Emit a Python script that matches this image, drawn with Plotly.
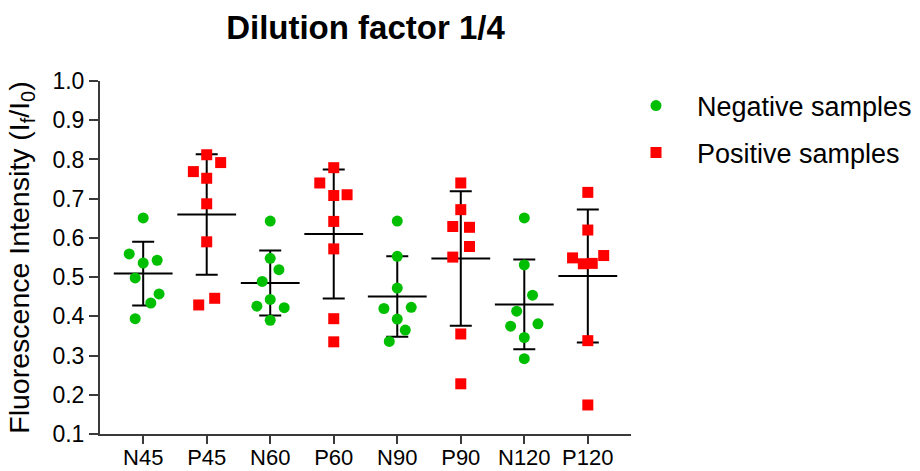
import numpy as np
import plotly.graph_objects as go

# Groups along the x axis
groups = ["N45", "P45", "N60", "P60", "N90", "P90", "N120", "P120"]

# Fluorescence intensity (If/I0) of each sample, per group
N45 = [0.651, 0.559, 0.536, 0.543, 0.498, 0.457, 0.434, 0.394]
P45 = [0.812, 0.792, 0.769, 0.752, 0.687, 0.590, 0.446, 0.429]
N60 = [0.643, 0.548, 0.519, 0.489, 0.443, 0.426, 0.422, 0.390]
P60 = [0.779, 0.740, 0.708, 0.710, 0.642, 0.572, 0.394, 0.335]
N90 = [0.643, 0.553, 0.472, 0.420, 0.423, 0.393, 0.365, 0.336]
P90 = [0.740, 0.672, 0.629, 0.627, 0.578, 0.551, 0.355, 0.228]
N120 = [0.651, 0.531, 0.454, 0.413, 0.375, 0.381, 0.346, 0.292]
P120 = [0.716, 0.620, 0.549, 0.555, 0.534, 0.535, 0.338, 0.174]

values = [N45, P45, N60, P60, N90, P90, N120, P120]

# Horizontal scatter of points inside each column (category units)
spread = [
    [0.0, -0.22, 0.0, 0.22, -0.126, 0.25, 0.12, -0.126],
    [0.0, 0.22, -0.21, 0.0, 0.0, 0.0, 0.126, -0.126],
    [0.0, 0.0, 0.137, -0.126, 0.0, -0.21, 0.22, 0.0],
    [0.0, -0.22, 0.0, 0.21, 0.0, 0.0, 0.0, 0.0],
    [0.0, 0.0, 0.0, -0.21, 0.22, 0.0, 0.126, -0.126],
    [0.0, 0.0, -0.126, 0.137, 0.137, -0.126, 0.0, 0.0],
    [0.0, 0.0, 0.13, -0.12, -0.215, 0.215, 0.0, 0.0],
    [0.0, 0.0, -0.24, 0.25, -0.07, 0.07, 0.0, 0.0],
]

GREEN = "#00BF00"
RED = "#FF0000"
FONT = "Liberation Sans, Arial, sans-serif"

W, H = 920, 471
ML, MR, MT, MB = 100, 289, 81, 37
plot_w = W - ML - MR
plot_h = H - MT - MB

fig = go.Figure()

# Mean ± SD bars (drawn first so the points sit on top)
for i, vals in enumerate(values):
    arr = np.array(vals)
    fig.add_trace(go.Scatter(
        x=[i], y=[arr.mean()],
        mode="markers",
        marker=dict(symbol="line-ew", size=42, line=dict(color="black", width=2)),
        error_y=dict(type="data", array=[arr.std(ddof=1)], color="black",
                     thickness=2, width=11),
        showlegend=False, hoverinfo="skip",
    ))

# Sample points: negatives as green circles, positives as red squares
for kind, name, color, symbol in [("N", "Negative samples", GREEN, "circle"),
                                  ("P", "Positive samples", RED, "square")]:
    xs, ys = [], []
    for i, g in enumerate(groups):
        if g.startswith(kind):
            xs += [i + d for d in spread[i]]
            ys += values[i]
    fig.add_trace(go.Scatter(
        x=xs, y=ys, mode="markers", name=name, legendgroup=name,
        marker=dict(symbol=symbol, size=11, color=color, line=dict(width=0)),
    ))

axis_color = "#3a3a3a"
fig.update_layout(
    width=W, height=H,
    margin=dict(l=ML, r=MR, t=MT, b=MB, autoexpand=False),
    paper_bgcolor="white", plot_bgcolor="white",
    font=dict(family=FONT, color="black"),
    title=dict(text="<b>Dilution factor 1/4</b>", font=dict(size=33, family=FONT),
               x=0.5, xref="paper", xanchor="center",
               y=1 - 27 / H, yref="container", yanchor="middle"),
    xaxis=dict(range=[-0.68, 7.68], tickmode="array",
               tickvals=list(range(len(groups))),
               ticktext=groups, showgrid=False, zeroline=False, automargin=False,
               showline=True, linecolor=axis_color, linewidth=2,
               ticks="outside", ticklen=8, tickwidth=2, tickcolor=axis_color,
               ticklabelstandoff=-5, tickfont=dict(size=22)),
    yaxis=dict(range=[0.1, 1.0], tickmode="array",
               tickvals=[0.1, 0.2, 0.3, 0.4, 0.5, 0.6, 0.7, 0.8, 0.9, 1.0],
               ticktext=["0.1", "0.2", "0.3", "0.4", "0.5", "0.6", "0.7", "0.8", "0.9", "1.0"],
               showgrid=False, zeroline=False, automargin=False,
               showline=True, linecolor=axis_color, linewidth=2,
               ticks="outside", ticklen=9, tickwidth=2, tickcolor=axis_color,
               tickfont=dict(size=23),
               title=dict(text="Fluorescence Intensity (I<sub>f</sub>/I<sub>0</sub>)",
                          font=dict(size=28.5), standoff=14)),
    legend=dict(x=(615 - ML) / plot_w, xanchor="left", y=0.993 + 2 / plot_h, yanchor="top",
                font=dict(size=27), itemwidth=72, tracegroupgap=9,
                traceorder="grouped", bgcolor="rgba(0,0,0,0)"),
)

fig.write_html("out.html")
